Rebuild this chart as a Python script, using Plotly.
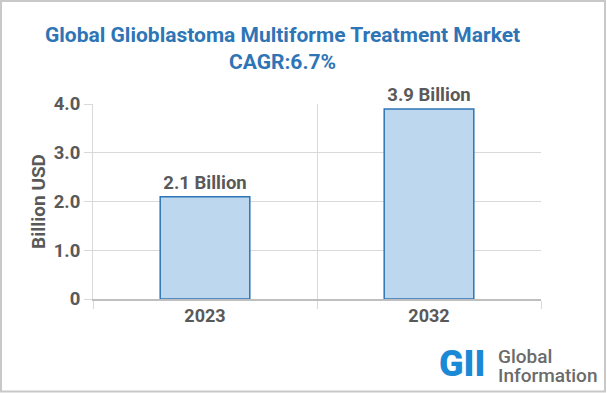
import plotly.graph_objects as go

years = ["2023", "2032"]
values = [2.1, 3.9]
value_labels = ["2.1 Billion", "3.9 Billion"]
y_tick_vals = [0, 1, 2, 3, 4]
y_tick_text = ["0", "1.0", "2.0", "3.0", "4.0"]
title_line1 = "Global Glioblastoma Multiforme Treatment Market"
title_line2 = "CAGR:6.7%"

W, H = 607, 393
L, R, T, B = 93, 66, 104, 94
PW, PH = W - L - R, H - T - B

def px(x):
    return (x - L) / PW

def py(y):
    return (H - B - y) / PH

FONT = "Roboto, sans-serif"
GRAY = "#595959"
BLUE = "#2e75b6"

fig = go.Figure()
fig.add_trace(go.Bar(
    x=years, y=values, width=0.4,
    marker=dict(color="#bdd7ee", line=dict(color="#2e75b6", width=1.5)),
    text=value_labels, textposition="outside",
    textfont=dict(family=FONT, size=18.5, color=GRAY, weight="bold"),
    cliponaxis=False,
))

fig.update_layout(
    width=W, height=H,
    margin=dict(l=L, r=R, t=T, b=B),
    paper_bgcolor="white", plot_bgcolor="white",
    showlegend=False,
    font=dict(family=FONT, color=GRAY),
    xaxis=dict(
        type="category", range=[-0.5, 1.5], tickson="boundaries",
        showgrid=True, gridcolor="#d9d9d9", gridwidth=1,
        ticks="outside", ticklen=8, tickcolor="#d9d9d9",
        showline=True, linecolor="#bfbfbf", linewidth=1.5,
        tickfont=dict(family=FONT, size=18, color=GRAY, weight="bold"),
    ),
    yaxis=dict(
        range=[0, 4], tickvals=y_tick_vals, ticktext=y_tick_text,
        showgrid=True, gridcolor="#d9d9d9", gridwidth=1,
        ticks="outside", ticklen=8, tickcolor="#d9d9d9",
        showline=True, linecolor="#d9d9d9", linewidth=1,
        zeroline=False,
        tickfont=dict(family=FONT, size=18.5, color=GRAY, weight="bold"),
        title=dict(text="Billion USD", font=dict(family=FONT, size=19, color=GRAY, weight="bold"), standoff=3),
    ),
)

fig.add_annotation(x=px(282), y=py(35), xref="paper", yref="paper", text=title_line1,
                   showarrow=False, xanchor="center", yanchor="middle",
                   font=dict(family=FONT, size=21, color=BLUE, weight="bold"))
fig.add_annotation(x=px(282), y=py(62), xref="paper", yref="paper", text=title_line2,
                   showarrow=False, xanchor="center", yanchor="middle",
                   font=dict(family=FONT, size=21, color=BLUE, weight="bold"))

# logo
fig.add_annotation(x=px(437), y=py(364), xref="paper", yref="paper", text="GII",
                   showarrow=False, xanchor="left", yanchor="middle",
                   font=dict(family=FONT, size=36, color="#1b8ad6", weight=900))
fig.add_annotation(x=px(496), y=py(356), xref="paper", yref="paper", text="Global",
                   showarrow=False, xanchor="left", yanchor="middle", height=16,
                   font=dict(family=FONT, size=19, color="#6b6b6b", weight=500))
fig.add_annotation(x=px(496), y=py(375), xref="paper", yref="paper", text="Information",
                   showarrow=False, xanchor="left", yanchor="middle", height=16,
                   font=dict(family=FONT, size=19, color="#6b6b6b", weight=500))

fig.add_shape(type="rect", xref="paper", yref="paper",
              x0=px(1), x1=px(605), y0=py(391.5), y1=py(1),
              line=dict(color="#c8c8c8", width=2), fillcolor="rgba(0,0,0,0)", layer="above")

fig.write_html("out.html", post_script="document.body.style.margin='0';",
               config={"displayModeBar": False})
